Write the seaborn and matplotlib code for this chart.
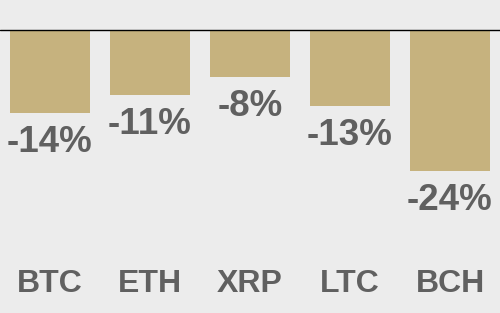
import matplotlib
matplotlib.use("Agg")
import matplotlib.pyplot as plt
import matplotlib.transforms as mtransforms
import seaborn as sns
import pandas as pd

coins = ["BTC", "ETH", "XRP", "LTC", "BCH"]
changes = [-14.0, -11.0, -8.0, -12.9, -23.9]
labels = ["-14%", "-11%", "-8%", "-13%", "-24%"]

sns.set_style("white")
plt.rcParams["font.family"] = ["Liberation Sans", "DejaVu Sans"]

bg = "#ececec"
bar_color = "#c6b27e"
text_color = "#606060"

df = pd.DataFrame({"coin": coins, "change": changes})

fig = plt.figure(figsize=(5, 3.13), dpi=100)
fig.patch.set_facecolor(bg)
ax = fig.add_axes([0, 0, 1, 1])
ax.set_facecolor(bg)

sns.barplot(data=df, x="coin", y="change", color=bar_color, width=0.8,
            saturation=1, linewidth=0, edgecolor="none", ax=ax)

ax.axhline(0, color="black", lw=1, zorder=3)
ax.set_xlim(-0.5, 4.5)
ax.set_ylim(-283 / 5.9, 30 / 5.9)
ax.axis("off")

for i, (v, lab) in enumerate(zip(changes, labels)):
    ax.annotate(lab, xy=(i, v), xytext=(0, -39), textcoords="offset pixels",
                ha="center", va="baseline", fontsize=26.5, fontweight="bold",
                color=text_color)

trans = mtransforms.blended_transform_factory(ax.transData, ax.transAxes)
for i, c in enumerate(coins):
    ax.text(i, 1 - 292 / 313, c, transform=trans, ha="center", va="baseline",
            fontsize=23, fontweight="bold", color=text_color)

fig.savefig("out.png", dpi=100, facecolor=bg)
